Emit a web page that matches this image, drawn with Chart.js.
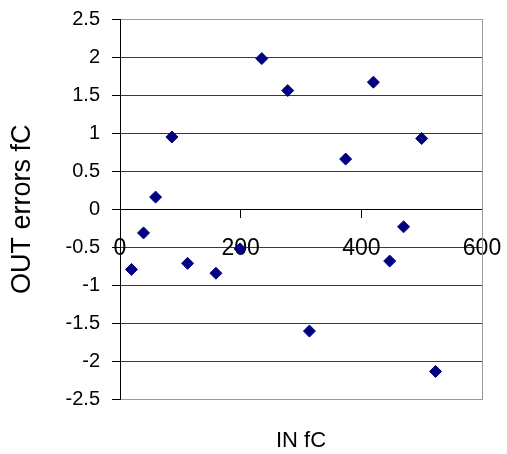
<!DOCTYPE html>
<html>
<head>
<meta charset="utf-8">
<script src="https://cdn.jsdelivr.net/npm/chart.js@4/dist/chart.umd.min.js"></script>
<style>
  html, body { margin: 0; padding: 0; background: #ffffff; }
  #wrap { width: 507px; height: 454px; }
</style>
</head>
<body>
<div id="wrap"><canvas id="c" width="507" height="454"></canvas></div>
<script>
// Data
const inValues  = [19, 39, 59, 86, 112, 159, 199, 235, 278, 314, 374, 420, 447, 470, 500, 523];
const outErrors = [-0.79, -0.31, 0.16, 0.95, -0.71, -0.84, -0.52, 1.98, 1.56, -1.60, 0.66, 1.67, -0.68, -0.23, 0.93, -2.13];
const xTickValues = [0, 200, 400, 600];
const yTickValues = [-2.5, -2, -1.5, -1, -0.5, 0, 0.5, 1, 1.5, 2, 2.5];
const xTitle = 'IN fC';
const yTitle = 'OUT errors fC';

const points = inValues.map((x, i) => ({ x: x, y: outErrors[i] }));

const yMin = yTickValues[0], yMax = yTickValues[yTickValues.length - 1];
const xMin = xTickValues[0], xMax = xTickValues[xTickValues.length - 1];

new Chart(document.getElementById('c'), {
  type: 'scatter',
  data: {
    datasets: [{
      data: points,
      pointStyle: 'rectRot',
      pointRadius: 6,
      pointHoverRadius: 6,
      backgroundColor: '#000080',
      borderColor: '#000080',
      borderWidth: 1
    }]
  },
  options: {
    responsive: false,
    animation: false,
    devicePixelRatio: 1,
    layout: { padding: { left: 0, right: 25, top: 19, bottom: 0 } },
    plugins: {
      legend: { display: false },
      tooltip: { enabled: false },
      title: {
        display: true,
        position: 'bottom',
        fullSize: false,
        text: xTitle,
        color: '#000',
        font: { family: 'Liberation Sans', size: 22, weight: 'normal' },
        padding: { top: 28, bottom: 0 }
      }
    },
    scales: {
      x: {
        type: 'linear',
        position: { y: 0 },
        min: xMin, max: xMax,
        afterBuildTicks: s => { s.ticks = xTickValues.map(v => ({ value: v })); },
        afterFit: s => { s.paddingLeft = 0; s.paddingRight = 0; s.paddingTop = 0; s.paddingBottom = 0; },
        ticks: {
          color: '#000',
          font: { family: 'Liberation Sans', size: 23 },
          padding: 18,
          maxRotation: 0,
          autoSkip: false,
          callback: v => String(v)
        },
        grid: {
          display: true,
          drawOnChartArea: false,
          drawTicks: true,
          tickLength: 8,
          tickColor: '#000',
          color: '#000'
        },
        border: { display: true, color: '#000', width: 1 },
        title: { display: false }
      },
      y: {
        type: 'linear',
        position: 'left',
        min: yMin, max: yMax,
        afterBuildTicks: s => { s.ticks = yTickValues.map(v => ({ value: v })); },
        afterFit: s => { s.width = 120; s.paddingTop = 0; s.paddingBottom = 0; },
        ticks: {
          color: '#000',
          font: { family: 'Liberation Sans', size: 20 },
          padding: 12,
          autoSkip: false,
          callback: v => String(v)
        },
        grid: {
          display: true,
          drawOnChartArea: true,
          drawTicks: true,
          tickLength: 8,
          tickColor: '#000',
          lineWidth: 1,
          color: ctx => (ctx.tick && (ctx.tick.value === yMax || ctx.tick.value === yMin)) ? '#999999' : '#3a3a3a'
        },
        border: { display: true, color: '#000', width: 1 },
        title: {
          display: true,
          text: yTitle,
          color: '#000',
          font: { family: 'Liberation Sans', size: 27, weight: 'normal' },
          padding: { top: 6, bottom: 0 }
        }
      },
      y2: {
        type: 'linear',
        position: 'right',
        min: yMin, max: yMax,
        afterFit: s => { s.width = 0; s.paddingTop = 0; s.paddingBottom = 0; },
        ticks: { display: false },
        grid: { display: false, drawOnChartArea: false, drawTicks: false },
        border: { display: true, color: '#999999', width: 1 }
      }
    }
  }
});
</script>
</body>
</html>
